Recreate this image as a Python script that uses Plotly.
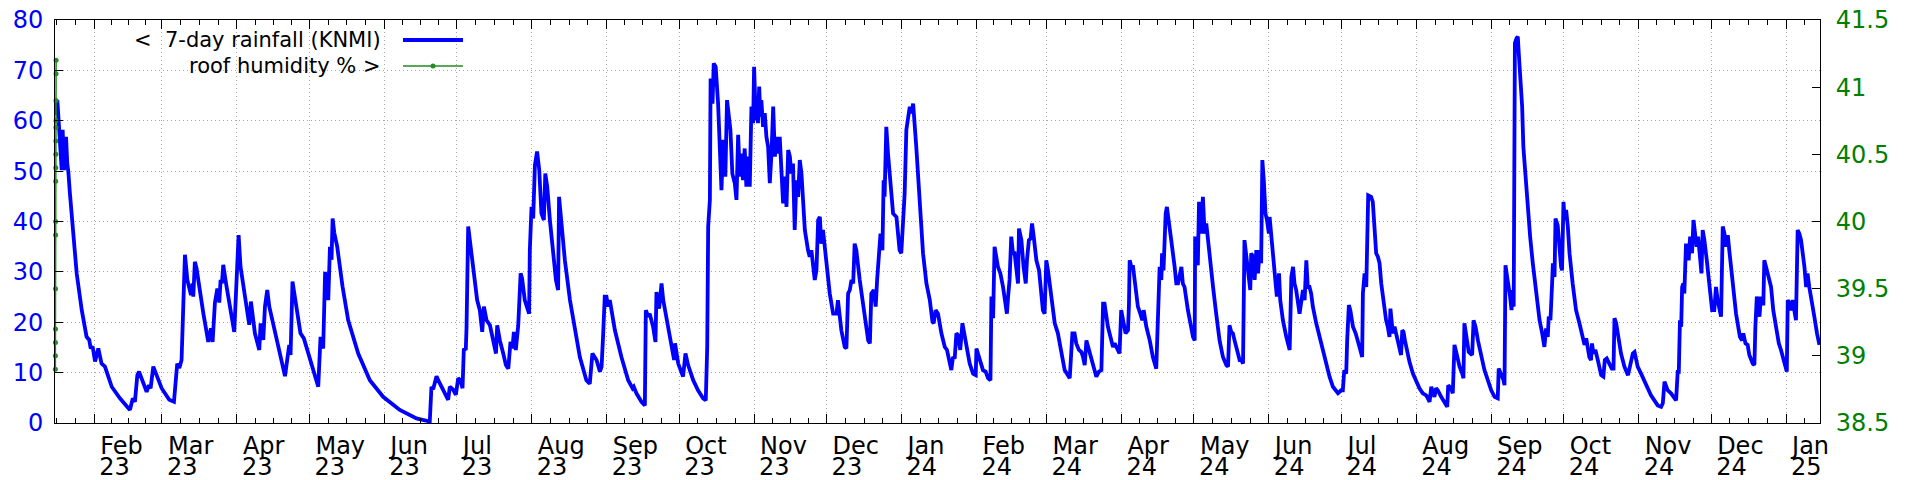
import pandas as pd
import plotly.graph_objects as go

# ---------------- data (days since 2023-01-01, 7-day rainfall mm) ----------------
BASE_DATE = "2023-01-01"

RAIN_2023_H1 = [
    (14.73, 61.1), (15.7, 64.1), (17.5, 50.2), (17.9, 58.2), (18.45, 50.2), (19.3, 56.8), (19.8, 51.5),
    (20.25, 49.9), (20.9, 45.6), (22.3, 37.7), (23.7, 29.7), (25.8, 22.4), (27.8, 17.1), (28.9, 16.5),
    (29.5, 14.8), (30.3, 15.2), (31.3, 12.2), (32.65, 14.8), (34.0, 11.8), (35.4, 11.2), (38.2, 7.2),
    (41.6, 4.9), (45.75, 2.6), (46.9, 4.9), (47.8, 4.2), (48.8, 9.5), (49.5, 10.2), (52.65, 6.2),
    (53.6, 7.5), (54.3, 6.9), (55.4, 11.2), (58.85, 6.9), (62.0, 4.6), (63.95, 4.2), (65.3, 11.8),
    (66.2, 10.9), (67.1, 12.5), (67.8, 23.1), (68.5, 33.4), (69.5, 28.4), (70.3, 27.1), (71.0, 25.4),
    (71.7, 27.7), (71.95, 25.1), (72.6, 32.0), (73.3, 30.7), (76.1, 21.8), (78.15, 16.1), (79.25, 18.8),
    (79.95, 16.1), (80.9, 23.9), (81.9, 26.7), (82.7, 23.9), (83.25, 28.4), (83.8, 27.7), (84.35, 31.4),
    (85.5, 27.7), (88.9, 18.1), (90.7, 37.3), (91.5, 31.0), (95.1, 19.5), (95.8, 24.1), (97.45, 17.8),
    (99.25, 14.5), (99.8, 19.8), (100.9, 16.5), (101.6, 23.1), (102.55, 26.4), (103.4, 23.1),
    (109.9, 9.3), (110.8, 12.5), (111.65, 15.5), (112.2, 13.5), (113.0, 28.1), (116.3, 17.8),
    (117.7, 16.8), (123.65, 7.2), (124.6, 17.1), (125.7, 14.8), (126.5, 30.0), (127.8, 24.4),
    (128.5, 35.0), (129.15, 32.4), (129.6, 40.6), (130.3, 37.7), (131.5, 35.0), (133.7, 27.1),
    (136.05, 20.4), (140.2, 13.8), (145.0, 8.5), (150.5, 5.2), (157.4, 2.6), (164.3, 0.9), (169.8, 0.3),
    (170.5, 7.2), (171.2, 6.7), (172.6, 9.3), (173.3, 8.5), (177.4, 4.6), (178.1, 7.2), (179.5, 6.6),
    (180.6, 5.6), (181.55, 8.9), (182.5, 8.5), (183.35, 6.9), (183.9, 14.8), (184.7, 14.5), (185.0, 18.8),
    (185.7, 39.0), (186.7, 35.0), (187.75, 29.7), (189.4, 24.4), (190.5, 22.4), (191.5, 18.1),
    (192.2, 23.1), (193.3, 20.4),
]

RAIN_2023_H2 = [
    (194.7, 19.4), (196.0, 16.1), (197.2, 13.8), (197.7, 19.4), (198.8, 16.4), (200.2, 13.8), (201.3, 11.5),
    (202.3, 10.8), (203.2, 16.1), (204.0, 14.8), (204.6, 18.1), (205.4, 14.5), (206.4, 19.4), (207.4, 29.7),
    (208.0, 28.7), (209.1, 24.4), (210.1, 23.1), (210.9, 21.7), (211.2, 34.3), (211.9, 42.9), (212.6, 40.6),
    (213.3, 51.2), (214.2, 53.9), (215.1, 50.2), (216.0, 41.6), (217.0, 40.3), (217.6, 49.5), (218.4, 46.9),
    (219.5, 40.3), (220.9, 33.7), (222.0, 28.4), (222.9, 26.4), (223.3, 44.9), (224.3, 39.6), (225.7, 32.3),
    (227.8, 24.4), (229.8, 18.4), (231.9, 13.1), (234.6, 8.5), (236.0, 7.8), (237.1, 13.8), (238.8, 12.5),
    (240.2, 10.2), (240.9, 11.2), (241.5, 17.1), (242.2, 25.1), (242.9, 25.1), (243.6, 23.1), (244.3, 24.4),
    (246.4, 18.4), (249.1, 13.1), (251.9, 8.5), (253.7, 6.9), (254.2, 7.2), (255.3, 5.9), (257.4, 4.2),
    (258.8, 3.5), (259.2, 22.4), (260.2, 21.1), (260.8, 21.7), (262.2, 19.1), (263.2, 16.1), (263.6, 26.0),
    (264.7, 22.7), (265.7, 27.7), (266.4, 24.4), (268.4, 19.1), (270.5, 13.1), (270.9, 12.5), (271.3, 15.8),
    (272.6, 11.8), (274.6, 9.2), (275.6, 13.8), (276.7, 11.5), (278.8, 8.5), (280.8, 6.5), (282.9, 4.9),
    (284.0, 4.5), (284.6, 15.1), (285.0, 39.0), (285.7, 44.3), (286.0, 68.4), (286.8, 63.4), (287.3, 71.4),
    (288.1, 70.7), (289.1, 63.4), (289.8, 51.5), (290.5, 46.2), (291.2, 56.2), (292.1, 48.9), (292.8, 64.1),
    (293.7, 60.1), (294.2, 58.2), (295.0, 49.5), (296.0, 47.6), (296.7, 44.3), (297.4, 57.2), (298.1, 48.9),
    (298.8, 53.5), (299.4, 48.2), (300.1, 54.5), (300.8, 46.9), (301.5, 52.9), (302.2, 46.9), (302.9, 62.8),
    (303.6, 59.5), (304.0, 70.7), (304.7, 60.1), (305.2, 64.1), (305.6, 59.5), (306.1, 66.8), (306.6, 60.8),
    (307.0, 64.1), (307.7, 58.8), (308.4, 61.5), (309.1, 56.8), (309.8, 54.8), (310.5, 47.6), (311.2, 53.5),
    (311.9, 62.8), (312.6, 52.9), (313.2, 56.8), (313.9, 53.5), (314.6, 56.8), (315.3, 49.5), (316.0, 43.6),
    (316.7, 48.9), (317.4, 42.9), (318.1, 54.2), (318.8, 52.9), (319.4, 49.5), (320.1, 51.5), (320.8, 38.3),
    (321.5, 48.2), (322.2, 44.9), (322.9, 52.2), (323.6, 49.5), (324.3, 43.6), (325.0, 38.3), (326.3, 34.3),
    (327.0, 33.0), (327.7, 34.3), (328.4, 31.0), (329.1, 28.4), (329.8, 30.3), (330.5, 40.3), (331.2, 40.9),
    (331.8, 35.6), (332.5, 38.3), (333.9, 31.7), (335.3, 25.7), (336.7, 21.7), (338.1, 21.7), (338.7, 24.4),
    (340.1, 18.4), (341.5, 15.1), (342.2, 14.8), (342.9, 25.7), (343.6, 26.4), (344.3, 28.4), (345.0, 27.7),
    (345.6, 35.6), (346.3, 34.3), (347.7, 28.4), (349.8, 21.1), (351.2, 16.4), (351.9, 15.8), (352.5, 25.7),
    (353.5, 26.4), (354.3, 23.1), (354.9, 28.4), (355.7, 35.0), (356.3, 37.6), (357.1, 34.3), (357.6, 48.2),
    (358.0, 44.9), (358.7, 58.8), (359.4, 53.5), (360.1, 48.9), (361.5, 41.6), (362.9, 40.9), (364.2, 34.3),
    (364.9, 33.7), (365.6, 40.3), (366.3, 45.6), (367.0, 58.2), (367.7, 60.8), (368.4, 62.8), (369.1, 61.5),
    (369.8, 63.4), (371.1, 54.8), (372.5, 42.9), (373.9, 33.7), (375.3, 27.7),
]

RAIN_2024_H1 = [
    (376.7, 24.4), (377.8, 20.1), (378.3, 19.8), (379.1, 22.4), (380.1, 21.7), (381.5, 17.8), (382.9, 15.1),
    (383.8, 14.5), (384.9, 11.8), (385.6, 10.5), (386.3, 13.1), (387.0, 12.8), (387.7, 17.8), (388.4, 17.4),
    (389.3, 14.5), (390.2, 19.8), (391.1, 17.4), (392.1, 14.5), (393.2, 11.8), (394.6, 9.8), (395.7, 9.5),
    (396.0, 14.8), (397.1, 13.1), (398.0, 11.2), (398.7, 10.5), (399.8, 10.2), (400.8, 8.9), (401.8, 8.5),
    (402.2, 25.1), (402.9, 20.8), (403.5, 35.0), (404.9, 31.0), (405.9, 29.7), (407.0, 27.0), (408.1, 23.7),
    (408.6, 21.7), (409.1, 25.1), (409.7, 28.4), (410.4, 37.0), (411.1, 33.7), (411.8, 33.7), (412.5, 29.7),
    (413.2, 27.7), (413.6, 38.6), (414.6, 36.3), (415.5, 31.0), (416.4, 27.7), (416.9, 32.3), (417.7, 36.3),
    (418.4, 36.6), (419.0, 39.6), (419.7, 37.0), (420.8, 32.3), (421.9, 30.3), (422.8, 25.7), (423.5, 22.4),
    (424.2, 21.7), (424.9, 32.3), (425.6, 30.3), (427.0, 24.4), (428.4, 19.8), (429.7, 17.8), (431.1, 13.8),
    (432.5, 10.5), (434.6, 8.9), (435.7, 17.8), (436.6, 17.8), (437.3, 15.8), (438.4, 14.5), (439.4, 14.1),
    (440.1, 13.1), (440.8, 11.5), (441.5, 16.4), (442.6, 14.5), (444.2, 11.2), (445.6, 9.2), (446.7, 10.2),
    (447.7, 10.5), (448.4, 23.7), (449.0, 23.7), (450.4, 19.1), (451.8, 16.4), (452.5, 15.1), (453.2, 15.8),
    (455.2, 13.8), (455.9, 22.4), (456.9, 19.8), (457.7, 17.8), (458.7, 18.4), (459.1, 23.4), (459.4, 32.3),
    (460.1, 31.0), (460.8, 31.0), (462.1, 25.7), (462.8, 23.1), (463.8, 21.7), (464.6, 20.4), (465.2, 22.4),
    (466.3, 19.1), (467.7, 16.4), (469.0, 13.1), (470.4, 10.8), (471.1, 22.4), (471.8, 31.0), (472.5, 28.4),
    (472.8, 33.7), (473.4, 30.3), (474.3, 41.6), (474.8, 42.9), (475.6, 40.3), (476.6, 36.3), (478.0, 31.0),
    (478.7, 27.7), (479.4, 27.7), (480.1, 29.7), (480.8, 31.0), (481.4, 27.7), (482.1, 27.0), (483.5, 22.4),
    (485.6, 17.1), (486.3, 16.4), (486.5, 37.0), (487.6, 31.3), (488.1, 43.9), (488.6, 40.3), (489.0, 37.6),
    (489.7, 44.9), (490.4, 37.6), (491.1, 39.6), (492.5, 32.3), (493.9, 27.0), (495.2, 21.7), (496.6, 16.4),
    (498.0, 13.1), (499.4, 11.5), (500.1, 11.2), (500.7, 19.4), (501.4, 18.1), (502.1, 17.8), (502.8, 16.4),
    (503.5, 15.1), (504.2, 13.1), (504.9, 12.5), (505.6, 12.5), (506.3, 11.8), (506.9, 36.3), (507.6, 33.7),
    (508.3, 29.7), (509.3, 26.4), (509.7, 33.7), (510.4, 33.0), (511.1, 28.4), (511.8, 34.3), (512.5, 29.7),
    (513.2, 34.3), (513.8, 31.7), (514.3, 52.2), (514.9, 48.2), (515.6, 41.6), (516.2, 40.3), (517.0, 37.6),
    (517.3, 40.9), (518.0, 37.0), (518.7, 31.7), (519.8, 27.7), (520.3, 25.1), (521.2, 29.7), (521.7, 24.4),
    (522.8, 20.4), (524.2, 17.1), (525.6, 14.5), (526.3, 29.0), (527.0, 31.0), (527.6, 27.7), (528.3, 26.4),
    (529.7, 21.7), (530.4, 24.4), (531.1, 26.4), (531.8, 24.4), (532.5, 32.3), (533.1, 27.0), (533.8, 27.0),
    (534.5, 25.7), (535.2, 23.1), (536.6, 19.8), (538.0, 17.1), (539.3, 14.5), (540.7, 11.5), (542.1, 9.2),
    (543.5, 7.2), (544.9, 6.2), (545.6, 5.9), (546.9, 6.5), (547.6, 6.5), (548.2, 10.5), (549.0, 9.8),
    (549.4, 16.4), (550.1, 23.4), (550.7, 22.4), (551.8, 19.1), (552.9, 17.8), (553.4, 17.1), (554.5, 15.1),
    (555.6, 13.1), (555.9, 25.7), (556.6, 29.7), (557.3, 27.0), (558.1, 45.2),
]

RAIN_2024_H2 = [
    (559.3, 44.9), (560.0, 43.9), (560.7, 37.6), (561.4, 33.7), (562.1, 33.0), (562.8, 31.7), (563.5, 27.7),
    (564.2, 25.1), (564.9, 22.4), (565.5, 20.4), (566.2, 19.1), (566.9, 17.1), (567.3, 22.7), (567.7, 19.8),
    (568.3, 17.8), (569.0, 19.1), (569.7, 17.8), (570.4, 16.4), (571.1, 15.1), (571.7, 13.5), (572.2, 18.4),
    (572.7, 18.1), (573.3, 16.4), (574.1, 14.5), (575.2, 12.1), (576.6, 9.8), (577.9, 8.2), (579.3, 6.9),
    (580.7, 5.9), (582.1, 5.5), (582.8, 4.9), (583.5, 4.2), (584.2, 7.2), (584.8, 6.5), (585.5, 5.2),
    (586.2, 6.9), (586.9, 6.5), (588.3, 5.2), (589.7, 4.2), (590.8, 3.2), (591.2, 7.5), (592.4, 6.9),
    (593.1, 5.9), (593.8, 15.5), (594.8, 13.5), (595.9, 11.2), (597.0, 9.8), (597.5, 8.9), (597.9, 19.8),
    (598.9, 17.1), (599.7, 14.1), (600.4, 13.8), (601.1, 13.5), (601.7, 20.4), (602.5, 19.1), (603.5, 16.4),
    (604.8, 13.1), (606.2, 10.5), (607.6, 8.5), (609.0, 6.5), (610.4, 5.2), (611.7, 4.9), (612.1, 10.8),
    (613.1, 9.8), (614.1, 8.5), (614.5, 7.5), (614.9, 31.3), (615.6, 29.0), (616.3, 27.0), (616.8, 25.1),
    (617.4, 22.4), (617.9, 26.4), (618.3, 23.1), (618.8, 75.4), (619.5, 76.4), (620.0, 76.7), (620.4, 73.4),
    (621.0, 68.1), (621.8, 62.8), (622.3, 54.8), (623.2, 48.2), (624.1, 41.6), (625.1, 37.0), (626.2, 31.7),
    (627.6, 25.7), (629.0, 20.4), (630.1, 17.8), (631.0, 15.1), (631.7, 18.8), (632.4, 17.1), (632.8, 21.1),
    (633.5, 20.4), (634.2, 27.7), (634.5, 31.7), (635.2, 29.0), (635.6, 40.6), (636.5, 39.3), (637.2, 34.3),
    (637.9, 31.0), (638.3, 30.3), (638.9, 43.9), (639.4, 40.3), (640.0, 42.3), (640.7, 39.0), (641.4, 33.7),
    (642.7, 27.7), (644.1, 22.4), (645.5, 19.8), (646.9, 16.4), (647.6, 15.5), (648.3, 16.8), (648.9, 14.5),
    (649.6, 13.1), (650.3, 12.5), (650.7, 15.8), (651.3, 13.8), (652.1, 14.5), (653.1, 12.5), (654.5, 9.5),
    (655.4, 9.2), (656.0, 12.5), (656.8, 12.8), (657.9, 11.5), (658.9, 10.8), (659.6, 10.8), (660.0, 20.8),
    (660.7, 19.8), (661.8, 16.4), (662.7, 13.8), (664.1, 11.2), (665.1, 9.8), (665.6, 9.5), (666.2, 10.8),
    (666.9, 12.5), (667.6, 13.8), (668.3, 14.1), (668.9, 12.8), (669.6, 11.2), (671.0, 9.8), (672.4, 8.2),
    (673.8, 6.9), (675.1, 5.5), (676.5, 4.5), (677.9, 3.5), (679.3, 3.2), (680.0, 3.9), (680.7, 8.2),
    (681.4, 7.5), (682.0, 6.5), (683.4, 5.9), (684.8, 4.9), (685.5, 4.5), (686.2, 10.5), (686.6, 9.8),
    (687.1, 20.4), (687.6, 19.1), (688.0, 27.0), (688.5, 27.7), (688.9, 25.7), (689.6, 35.6), (690.3, 34.3),
    (690.7, 32.3), (691.3, 37.0), (692.1, 33.7), (692.7, 40.3), (693.5, 36.3), (694.0, 35.0), (694.6, 37.0),
    (695.4, 33.7), (696.0, 29.7), (696.5, 38.3), (697.2, 36.3), (698.2, 32.3), (699.3, 27.0), (700.4, 22.4),
    (701.3, 22.4), (702.0, 27.0), (702.7, 24.4), (703.4, 22.4), (704.1, 21.1), (704.8, 39.0), (705.5, 37.6),
    (706.2, 35.0), (706.9, 37.3), (707.5, 34.3), (708.9, 27.7), (710.3, 21.7), (711.9, 17.1), (712.8, 16.4),
    (713.3, 17.8), (714.2, 15.8), (715.1, 15.5), (715.8, 13.5), (717.2, 11.8), (717.9, 11.5), (718.3, 19.1),
    (718.9, 25.1), (719.6, 23.1), (720.0, 21.1), (720.6, 25.1), (721.1, 23.7), (721.6, 23.7), (722.0, 32.3),
    (722.7, 31.0), (723.4, 29.7), (724.1, 28.7), (724.8, 27.0), (725.7, 22.4), (726.9, 18.8), (728.0, 15.8),
    (728.9, 14.5), (729.6, 13.1), (730.7, 10.8), (731.3, 10.2), (731.7, 24.4), (732.4, 23.7), (733.1, 22.4),
    (733.7, 24.4), (734.4, 22.4), (735.1, 20.4), (735.8, 38.3), (736.5, 37.6), (737.2, 36.3), (737.9, 33.7),
    (738.6, 31.0), (739.3, 27.0), (739.9, 29.7), (740.6, 27.0), (741.7, 24.4), (742.7, 21.1), (743.8, 17.8),
    (744.8, 15.5),
]

# roof humidity sensor readings (only at the very start of the period)
HUM_TIMES = [
    "2023-01-15 21:00", "2023-01-15 21:30", "2023-01-15 22:00", "2023-01-15 22:30",
    "2023-01-15 23:00", "2023-01-15 23:30", "2023-01-16 00:00", "2023-01-16 00:30",
    "2023-01-16 01:00", "2023-01-16 01:30", "2023-01-16 02:00", "2023-01-16 02:30",
    "2023-01-16 03:00", "2023-01-16 03:30", "2023-01-16 04:00", "2023-01-16 04:30",
]
HUM_VALUES = [38.9, 39.0, 39.1, 39.2, 39.5, 39.9, 40.0, 40.3,
              40.4, 40.5, 40.6, 40.7, 40.75, 40.9, 41.1, 41.2]

X_RANGE = ["2023-01-15 17:30", "2025-01-15 01:00"]
Y_RANGE = [0, 80]
Y2_RANGE = [38.5, 41.5]
LEGEND_LABELS = ["&lt;&#160; 7-day rainfall (KNMI)", "roof humidity % &gt;"]

# ---------------- build ----------------
rain_pts = RAIN_2023_H1 + RAIN_2023_H2 + RAIN_2024_H1 + RAIN_2024_H2
base = pd.Timestamp(BASE_DATE)
rain_x = [base + pd.to_timedelta(d, unit="D") for d, _ in rain_pts]
rain_y = [v for _, v in rain_pts]

FONT = "DejaVu Sans"
FS_TICK = 24
FS_KEY = 21
BLUE = "#0000ff"
GREEN_LINE = "#228b22"
GREEN_TXT = "#008000"
GRID = "#a8a8a8"
GRID_DASH = "1px,3px"

# the html page body has an 8px margin: figure is 1912x472 placed at (8, 8)
PAGE_OFF = 8
W, H = 1920 - PAGE_OFF, 480 - PAGE_OFF
L, R, T, B = 55 - PAGE_OFF, 100, 20 - PAGE_OFF, 57

fig = go.Figure()
fig.add_trace(go.Scatter(x=rain_x, y=rain_y, mode="lines",
                         line=dict(color=BLUE, width=3.8), showlegend=False,
                         name="7-day rainfall (KNMI)"))
fig.add_trace(go.Scatter(x=pd.to_datetime(HUM_TIMES), y=HUM_VALUES, mode="lines+markers",
                         line=dict(color=GREEN_LINE, width=1.5),
                         marker=dict(color=GREEN_LINE, size=5), xaxis="x3", yaxis="y2",
                         cliponaxis=False, showlegend=False, name="roof humidity %"))

# month ticks
months = pd.date_range("2023-02-01", "2025-01-01", freq="MS")
month_text = [f"{m:%b}" for m in months]
year_text = [f"{m:%y}" for m in months]
all_months = pd.date_range("2023-01-01", "2025-02-01", freq="MS")
minor_vals = []
for a, b in zip(all_months[:-1], all_months[1:]):
    for k in (1, 2, 3):
        t = a + (b - a) * k / 4
        if pd.Timestamp(X_RANGE[0]) <= t <= pd.Timestamp(X_RANGE[1]):
            minor_vals.append(t)

fig.update_layout(
    width=W, height=H,
    margin=dict(l=L, r=R, t=T, b=B, autoexpand=False),
    paper_bgcolor="white", plot_bgcolor="white",
    font=dict(family=FONT, size=FS_TICK, color="black"),
    xaxis=dict(
        type="date", range=X_RANGE, automargin=False,
        tickmode="array", tickvals=list(months), ticktext=month_text,
        ticks="inside", ticklen=9, tickwidth=1, tickcolor="black",
        ticklabelposition="outside right", ticklabelshift=5, ticklabelstandoff=1,
        ticklabeloverflow="allow",
        tickfont=dict(family=FONT, size=FS_TICK, color="black"),
        showline=True, linecolor="black", linewidth=1, mirror="ticks",
        showgrid=True, gridcolor=GRID, griddash=GRID_DASH, gridwidth=1,
        zeroline=False,
        minor=dict(tickmode="array", tickvals=minor_vals, ticks="inside",
                   ticklen=5, tickwidth=1, tickcolor="black", showgrid=False),
    ),
    xaxis3=dict(
        type="date", range=X_RANGE, overlaying="x", anchor="y", side="bottom",
        automargin=False,
        tickmode="array", tickvals=list(months), ticktext=year_text,
        ticks="", ticklabelposition="outside right", ticklabelshift=5,
        ticklabelstandoff=27, ticklabeloverflow="allow",
        tickfont=dict(family=FONT, size=FS_TICK, color="black"),
        showline=False, showgrid=False, zeroline=False,
    ),
    yaxis=dict(
        range=Y_RANGE, dtick=10, tick0=0, automargin=False,
        ticks="inside", ticklen=8, tickwidth=1, tickcolor="black",
        ticklabelstandoff=6, ticklabeloverflow="allow",
        tickfont=dict(family=FONT, size=FS_TICK, color=BLUE),
        showline=True, linecolor="black", linewidth=1,
        showgrid=True, gridcolor=GRID, griddash=GRID_DASH, gridwidth=1,
        zeroline=False,
    ),
    yaxis2=dict(
        range=Y2_RANGE, dtick=0.5, tick0=38.5, overlaying="y", side="right", anchor="x",
        automargin=False,
        ticks="inside", ticklen=8, tickwidth=1, tickcolor="black",
        ticklabelstandoff=10, ticklabeloverflow="allow",
        tickfont=dict(family=FONT, size=FS_TICK, color=GREEN_TXT),
        showline=True, linecolor="black", linewidth=1,
        showgrid=False, zeroline=False,
    ),
)

# gnuplot-style key: right-aligned text with the sample on its right
plot_w = W - L - R
plot_h = H - T - B
key_text_x = (383 - 55) / plot_w
key_line_x0 = (403 - 55) / plot_w
key_line_x1 = (463 - 55) / plot_w
key_rows_y = [(423 - 40) / plot_h, (423 - 66) / plot_h]
key_colors = [BLUE, GREEN_LINE]
key_widths = [3.8, 1.5]
for label, yy, col, w in zip(LEGEND_LABELS, key_rows_y, key_colors, key_widths):
    fig.add_annotation(xref="paper", yref="paper", x=key_text_x, y=yy, text=label,
                       showarrow=False, xanchor="right", yanchor="middle", align="right",
                       font=dict(family=FONT, size=FS_KEY, color="black"))
    fig.add_shape(type="line", xref="paper", yref="paper", x0=key_line_x0, x1=key_line_x1,
                  y0=yy, y1=yy, line=dict(color=col, width=w))
fig.add_shape(type="circle", xref="paper", yref="paper",
              xsizemode="pixel", ysizemode="pixel",
              xanchor=(key_line_x0 + key_line_x1) / 2, yanchor=key_rows_y[1],
              x0=-2.5, x1=2.5, y0=-2.5, y1=2.5,
              fillcolor=GREEN_LINE, line=dict(color=GREEN_LINE, width=0))

fig.write_html("out.html")
